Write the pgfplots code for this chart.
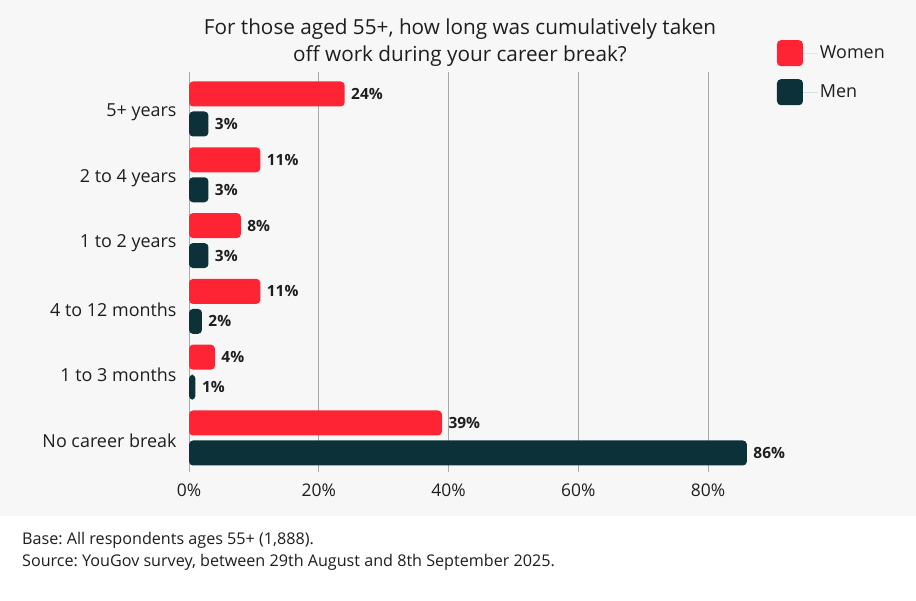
\documentclass[border=0pt]{standalone}
\usepackage{pgfplots}
\pgfplotsset{compat=1.18}
\usepackage{fontspec}
\setmainfont{Open Sans}
\frenchspacing
\definecolor{bgc}{HTML}{F7F7F7}
\definecolor{wred}{HTML}{FF2433}
\definecolor{mdark}{HTML}{0D3139}
\definecolor{txt}{HTML}{1E1E1E}
\definecolor{gridc}{HTML}{A8A8A8}

\begin{document}
\begin{tikzpicture}
\path[use as bounding box] (0,0) rectangle (916bp,601bp);
\fill[white] (0,0) rectangle (916bp,601bp);
\fill[bgc] (0,85bp) rectangle (916bp,601bp);
\begin{axis}[
    at={(189bp,129bp)}, anchor=south west,
    scale only axis,
    width=648.75bp, height=400bp,
    xbar, bar width=25bp,
    xmin=0, xmax=100,
    ymin=-0.562, ymax=5.517,
    y dir=reverse,
    axis line style={draw=none},
    xtick={0,20,40,60,80},
    xticklabel={\pgfmathprintnumber{\tick}\%},
    /pgf/number format/assume math mode=true,
    xmajorgrids, grid style={gridc, line width=0.8bp},
    major tick length=0pt,
    ytick={0,1,2,3,4,5},
    yticklabels={5+ years,2 to 4 years,1 to 2 years,4 to 12 months,1 to 3 months,No career break},
    yticklabel style={font=\fontsize{18}{20}\selectfont, text=txt, xshift=-9bp, yshift=-3bp},
    xticklabel style={font=\fontsize{17.5}{19}\selectfont, text=txt, yshift=-8bp},
    nodes near coords={\pgfmathprintnumber{\pgfplotspointmeta}\%},
    nodes near coords style={font=\bfseries\fontsize{15.5}{17}\selectfont, text=txt, anchor=west, xshift=3bp},
    legend style={draw=none, fill=none, at={(0.906,1.08)}, anchor=north west,
        font=\fontsize{18}{20}\selectfont, text=txt, row sep=13bp, inner sep=0pt,
        cells={anchor=west}},
    legend cell align=left,
    clip=false,
]
\addplot[draw=none, fill=wred, rounded corners=4bp, bar shift=15bp,
    legend image code/.code={\fill[wred, rounded corners=4bp] (0bp,-13bp) rectangle (26bp,13bp);
        \path (0bp,0bp) -- (41bp,0bp);}]
    coordinates {(24,0) (11,1) (8,2) (11,3) (4,4) (39,5)};
\addplot[draw=none, fill=mdark, rounded corners=4bp, bar shift=-15bp,
    legend image code/.code={\fill[mdark, rounded corners=4bp] (0bp,-13bp) rectangle (26bp,13bp);
        \path (0bp,0bp) -- (41bp,0bp);}]
    coordinates {(3,0) (3,1) (3,2) (2,3) (1,4) (86,5)};
\legend{Women,Men}
\end{axis}
\node[align=center, text=txt, font=\fontsize{20.8}{27}\selectfont] at (460bp,558bp)
    {For those aged 55+, how long was cumulatively taken\\off work during your career break?};
\node[anchor=west, text=txt, font=\fontsize{16.2}{18}\selectfont, inner sep=0pt] at (22bp,61bp)
    {Base: All respondents ages 55+ (1,888).};
\node[anchor=west, text=txt, font=\fontsize{16.2}{18}\selectfont, inner sep=0pt] at (22bp,39bp)
    {Source: YouGov survey, between 29th August and 8th September 2025.};
\end{tikzpicture}
\end{document}
